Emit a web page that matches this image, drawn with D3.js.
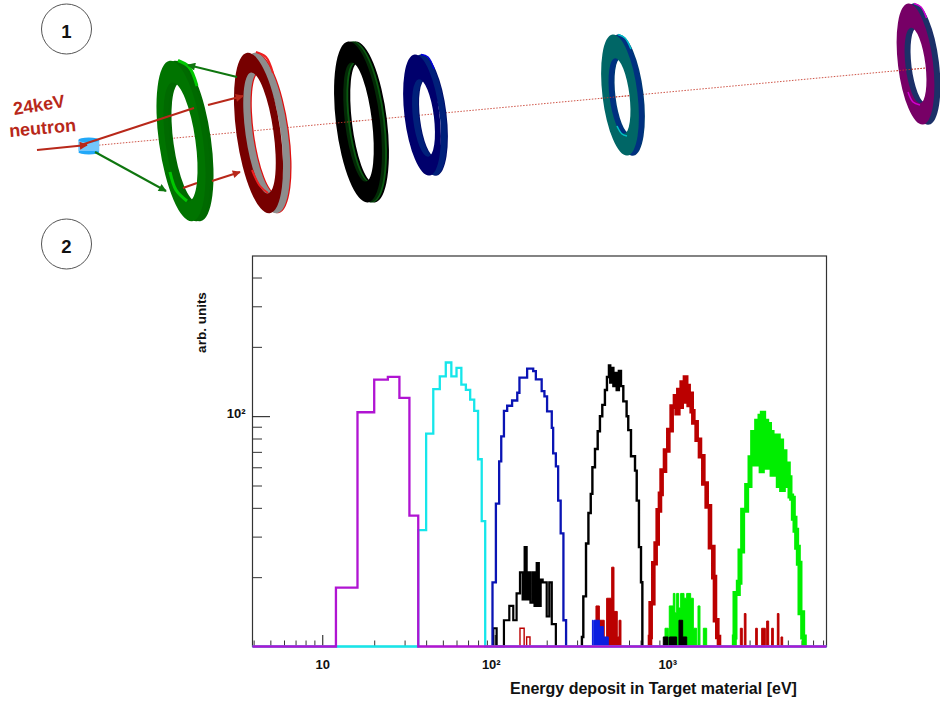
<!DOCTYPE html>
<html><head><meta charset="utf-8">
<script src="https://cdn.jsdelivr.net/npm/d3@7"></script>
<style>
html,body{margin:0;padding:0;background:#fff}
svg{display:block}
text{font-family:"Liberation Sans",Arial,sans-serif;font-weight:bold;fill:#111}
</style></head><body><div id="c"></div>
<script>
// ---------- histogram data: bin edges [eV] and counts ----------
const purpleEdges=[12,16,20,24,28,32,36];
const purpleCounts=[18,104,144,148,120,37];
const cyanEdges=[36,40,44,48,52,56,60,64,68,72,76,80,84,88];
const cyanCounts=[32,84,131,149,171,149,162,137,130,118,105.5,65,35];
const blueEdges=[97,101.5,106,109,113,118,126,135,139,154,167,173,187,194,201,214,218,226,233,241,250,259];
const blueCounts=[19,41.7,63.7,81.8,105.5,111,117,126.4,147,161,157,144.5,128.5,122,105,89,69,60.6,43,31,13];
const blackEdges=[320,326,338,349,360,368,381,395,407,420,435,447,459,467,476,487,498,509,524,539,556,581,594,616,650,665,685,704,717];
const blackCounts=[11,16.5,28,38,46,60,72,86,100,112,130,148,166,140,162,135,154,130,157,135,116,100,87,67,58,43,27,19];
const redEdges=[794,801,830,856,880,907,927,970,1014,1060,1108,1133,1159,1185,1212,1239,1266,1287,1307,1330,1354,1385,1416,1480,1547,1618,1692,1768,1849,1890,1950,1994];
const redCounts=[11,15.4,23,28,39,46,58,71,87,110,122,103,130,110,140,118,147,116,135,112,125,105,94,79,67,51,40.6,27,20,13,11];
const greenEdges=[2447,2469,2581,2639,2734,2885,3017,3125,3200,3297,3370,3447,3500,3556,3620,3684,3770,3853,3915,3976,4050,4119,4210,4306,4400,4503,4600,4707,4810,4920,5030,5145,5260,5379,5500,5623,5750,5879,6093,6228];
const greenCounts=[11,17,19,26,39,50,66,85,62,95,66,100,58,103,62,95,60,92,65,85,56,82,62,82,50,78,48,70,50,62,54,45,44,36,32,27,23,14,11];
// secondary populations
const blackLowEdges=[98,102.5,113,121.4,128,133.8,140,145,149,153,157,161,166,170,175,180,184.5,189.5,200,207,214,226];
const blackLowCounts=[12,10,13,15,13,17,21,16,27,16,21,15.5,21,15,23,15,19.5,19,13.5,19,12.5];
const redLowEdges=[140,148,153,160];
const redLowCounts=[12,10,11];
const redMidEdges=[386,404,431,445,476,491,513,525,539];
const redMidCounts=[15,13,10,16.2,22.1,14.2,11,13];
const blueMidEdges=[368,372,376,379,404,426,455];
const blueMidCounts=[13,10,13,13,12.2,11];
const greenMidEdges=[970,1014,1027,1084,1108,1133,1164,1195,1250,1295,1366,1416,1480,1507,1547,1618,1692];
const greenMidCounts=[12,10,15,17,14,17,14.7,17,16.2,17,16.2,12,10,15,10,12];
const blackMidEdges=[948,1010,1030,1133,1169,1228,1296];
const blackMidCounts=[11,10,11,10,13,11];
const redHighEdges=[2651,2722,2796,2860,3253,3327,3525,3602,3701,3767,3870,4027,4119,4345,4442,4562,4666];
const redHighCounts=[12,10,13.9,10,12,10,12,12,10,12.9,10,12,10,13.9,10,11];
// axes
const xMinorTicks=[4,5,6,7,8,9,20,30,40,50,60,70,80,90,200,300,400,500,600,700,800,900,2000,3000,4000,5000,6000,7000,8000];
const xMajorTicks=[10,100,1000];
const xMajorLabels=["10","10²","10³"];
const yMinorTicks=[20,30,40,50,60,70,80,90,200,300,400];
const yMajorTicks=[100];
const yMajorLabels=["10²"];
const xTitle="Energy deposit in Target material [eV]";
const yTitle="arb. units";

const W=940,H=702;
const svg=d3.select("#c").append("svg").attr("width",W).attr("height",H).attr("viewBox",`0 0 ${W} ${H}`);
svg.append("rect").attr("width",W).attr("height",H).attr("fill","#fff");

// ---------- detector sketch ----------
const sketch=svg.append("g");
const RED="#b8281a",GRN="#0f760f";
const defs=svg.append("defs");
[["headR",RED],["headG",GRN]].forEach(([id,c])=>{
  defs.append("marker").attr("id",id).attr("viewBox","0 0 10 10").attr("refX",9).attr("refY",5)
    .attr("markerWidth",9).attr("markerHeight",8).attr("markerUnits","userSpaceOnUse").attr("orient","auto")
    .append("path").attr("d","M0,0L10,5L0,10Z").attr("fill",c);
});
defs.append("clipPath").attr("id","overFaces").selectAll("rect")
  .data([[336,24],[600,30],[896,30]]).join("rect")
  .attr("x",d=>d[0]).attr("width",d=>d[1]).attr("y",0).attr("height",240);

function beam(sel){
  return sel.append("line").attr("x1",90).attr("y1",146).attr("x2",926).attr("y2",68)
   .attr("stroke","#c8392a").attr("stroke-width",1).attr("stroke-dasharray","1.5 1.5").attr("opacity",.85);
}
beam(sketch);

function ell(cx,cy,rx,ry,deg){
  const a=deg*Math.PI/180, ux=Math.sin(a)*ry, uy=-Math.cos(a)*ry;
  const x0=cx+ux,y0=cy+uy,x1=cx-ux,y1=cy-uy;
  return `M${x0},${y0}A${rx},${ry} ${deg} 1 0 ${x1},${y1}A${rx},${ry} ${deg} 1 0 ${x0},${y0}Z`;
}
const rings=[
 {c:[181,141],r:[22,81],hc:[180.5,142],hr:[15,60],tilt:-8,d:8,face:"#007400",layers:[[1,"#006800"],[.6,"#006a00"]],
  glints:[[[170,172],[176,190],[187,201]],[[178,60.5],[189,67],[197,86]]],glint:"#00c800",gw:3},
 {c:[258.5,133],r:[22,81],hc:[259.5,133],hr:[14,61],tilt:-8,d:8.5,face:"#770000",layers:[[1,"#e01010"],[.85,"#8d8d8d"]],
  glints:[[[256,52],[266,57],[273,73]],[[252,170],[260,186],[268,193]]],glint:"#ee2020",gw:2},
 {c:[358,122],r:[22,81],hc:[358.5,122],hr:[13.5,60],tilt:-7,d:7,face:"#000",layers:[[1,"#000"],[.72,"#0b5a12"],[.45,"#032a06"]],glints:[]},
 {c:[422,115],r:[17.5,61],hc:[423.5,118],hr:[10.5,39],tilt:-7,d:7,face:"#00006c",layers:[[1,"#00106c"],[.85,"#00207a"]],
  glints:[[[421,54.5],[428,57],[434,69]]],glint:"#0000dd",gw:1.5},
 {c:[620,95],r:[17.5,61],hc:[619.5,96],hr:[10,38],tilt:-7,d:6,face:"#006666",layers:[[1,"#003a70"],[.85,"#003080"]],
  glints:[[[617,126],[622,134],[627,136]],[[618,34.5],[625,38],[631,49]]],glint:"#00c0c8",gw:1.5},
 {c:[915.5,64],r:[17.5,61],hc:[915.5,65.5],hr:[10,38],tilt:-7,d:6,face:"#770066",layers:[[1,"#1c3068"],[.85,"#1c3068"]],
  glints:[[[908,92],[913,102],[920,105]],[[914,3.5],[921,7],[926.5,18]]],glint:"#d000d0",gw:1.5}
];
rings.forEach(k=>{
  const g=sketch.append("g");
  const ring=(o)=>ell(k.c[0]+o,k.c[1],k.r[0],k.r[1],k.tilt)+ell(k.hc[0]+o,k.hc[1],k.hr[0],k.hr[1],k.tilt);
  k.layers.forEach(([f,col])=>g.append("path").attr("d",ring(k.d*f)).attr("fill",col).attr("fill-rule","evenodd"));
  g.append("path").attr("d",ring(0)).attr("fill",k.face).attr("fill-rule","evenodd");
  k.glints.forEach(p=>g.append("path").attr("d",d3.line().curve(d3.curveCatmullRom)(p))
     .attr("fill","none").attr("stroke",k.glint).attr("stroke-width",k.gw));
});
beam(sketch.append("g").attr("clip-path","url(#overFaces)"));

// target
const tg=sketch.append("g");
tg.append("ellipse").attr("cx",88.8).attr("cy",152).attr("rx",10.5).attr("ry",2.6).attr("fill","#22a8f8");
tg.append("rect").attr("x",78.3).attr("y",140).attr("width",21).attr("height",11).attr("fill","#73c6fb");
tg.append("ellipse").attr("cx",88.8).attr("cy",140).attr("rx",10.5).attr("ry",2.6).attr("fill","#22a8f8");

const seg=(p,c,w,m)=>{const l=sketch.append("line").attr("x1",p[0]).attr("y1",p[1]).attr("x2",p[2]).attr("y2",p[3])
   .attr("stroke",c).attr("stroke-width",w); if(m) l.attr("marker-end",`url(#${m})`);};
seg([37,150,87,145],RED,2,"headR");
seg([81,145,194,108],RED,2);
seg([208,105,243,96],RED,2,"headR");
seg([183,188,197,183],RED,2);
seg([212,181,240,172],RED,2,"headR");
seg([95,152,166,191],GRN,2,"headG");
seg([237,77,188,65],GRN,2,"headG");

[["1",66.5,29],["2",66.5,244]].forEach(([t,cx,cy])=>{
  sketch.append("circle").attr("cx",cx).attr("cy",cy).attr("r",25).attr("fill","#fff").attr("stroke","#555").attr("stroke-width",1);
  sketch.append("text").attr("x",cx).attr("y",cy+9).attr("text-anchor","middle").attr("font-size",18.5).text(t);
});
sketch.append("text").attr("transform","translate(40,111) rotate(-9)").attr("text-anchor","middle").attr("font-size",18).style("fill",RED).text("24keV");
sketch.append("text").attr("transform","translate(43,134) rotate(-5)").attr("text-anchor","middle").attr("font-size",18).style("fill",RED).text("neutron");

// ---------- plot ----------
const pLeft=252.5,pRight=826.5,pTop=256,pBottom=646.5;
const x=d3.scaleLog().domain([3.94,8375]).range([pLeft,pRight]);
const y=d3.scaleLog().domain([10,496]).range([pBottom,pTop]).clamp(true);
const plot=svg.append("g");
plot.append("rect").attr("x",pLeft).attr("y",pTop).attr("width",pRight-pLeft).attr("height",pBottom-pTop)
   .attr("fill","none").attr("stroke","#333").attr("stroke-width",1.2);

function tickAxis(axis,tr){
  const g=plot.append("g").attr("transform",tr).call(axis);
  g.select(".domain").remove();
  g.selectAll("line").attr("stroke","#333").attr("stroke-width",1);
  return g;
}
tickAxis(d3.axisBottom(x).tickValues(xMinorTicks).tickSize(-6).tickFormat(""),`translate(0,${pBottom})`);
tickAxis(d3.axisLeft(y).tickValues(yMinorTicks).tickSize(-9.5).tickFormat(""),`translate(${pLeft},0)`);
const xm=tickAxis(d3.axisBottom(x).tickValues(xMajorTicks).tickSize(-11.5).tickPadding(13).tickFormat((d,i)=>xMajorLabels[i]),`translate(0,${pBottom})`);
const ym=tickAxis(d3.axisLeft(y).tickValues(yMajorTicks).tickSize(-17.5).tickPadding(7).tickFormat((d,i)=>yMajorLabels[i]),`translate(${pLeft},0)`);
xm.selectAll("line").attr("stroke","#111");
ym.selectAll("line").attr("stroke","#111");
xm.attr("font-family",null).attr("font-size",null);
ym.attr("font-family",null).attr("font-size",null);
xm.selectAll("text").attr("font-size",13).attr("dx",(d,i)=>i==1?-4:0);
ym.selectAll("text").attr("font-size",13).attr("dy","0.1em");

plot.append("text").attr("x",510).attr("y",693.5).attr("font-size",16).text(xTitle);
plot.append("text").attr("transform","translate(206,322.5) rotate(-90)").attr("text-anchor","middle").attr("font-size",13.5).text(yTitle);

function steps(edges,counts,span){
  const pts=[];
  if(span) pts.push([x.domain()[0],10],[edges[0],10]); else pts.push([edges[0],10]);
  counts.forEach((c,i)=>{pts.push([edges[i],c],[edges[i+1],c]);});
  pts.push([edges[edges.length-1],10]);
  if(span) pts.push([x.domain()[1],10]);
  return pts;
}
const line=d3.line().x(d=>x(d[0])).y(d=>y(d[1]));
function drawHist(edges,counts,col,w,opt={}){
  plot.append("path").attr("d",line(steps(edges,counts,opt.span)))
    .attr("fill",opt.fill?col:"none").attr("stroke",col).attr("stroke-width",w).attr("stroke-linejoin","miter");
}
const cGreen="#00ee00",cRed="#bb0000",cBlack="#000",cBlue="#0a14b4",cCyan="#16e6ea",cPurple="#b014d2";
drawHist(greenEdges,greenCounts,cGreen,5);
drawHist(greenMidEdges,greenMidCounts,cGreen,1,{fill:true});
drawHist(redEdges,redCounts,cRed,4.6);
drawHist(redHighEdges,redHighCounts,cRed,1,{fill:true});
drawHist(redMidEdges,redMidCounts,cRed,1,{fill:true});
drawHist(redLowEdges,redLowCounts,cRed,1.4);
drawHist(blackEdges,blackCounts,cBlack,2.4);
drawHist(blackMidEdges,blackMidCounts,cBlack,1,{fill:true});
drawHist(blackLowEdges,blackLowCounts,cBlack,2.2);
drawHist(blueMidEdges,blueMidCounts,"#0a1ee0",1,{fill:true});
drawHist(blueEdges,blueCounts,cBlue,2.3);
drawHist(cyanEdges,cyanCounts,cCyan,2.3,{span:true});
drawHist(purpleEdges,purpleCounts,cPurple,2.3,{span:true});
</script></body></html>
